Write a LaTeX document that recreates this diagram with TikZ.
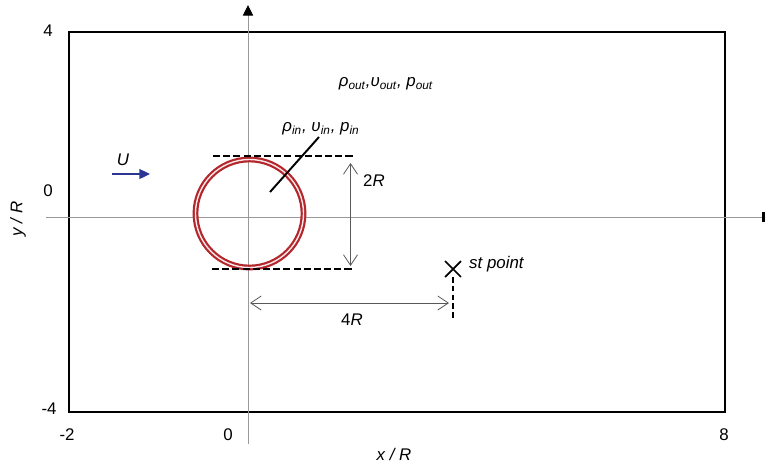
\documentclass[tikz,border=0pt]{standalone}
\usepackage{fontspec}
\setmainfont{Liberation Sans}
\usepackage{tikz}
\usetikzlibrary{arrows.meta,positioning,shapes.misc}
\definecolor{ring-red}{HTML}{B3262B}
\definecolor{flow-blue}{HTML}{2B3594}

\tikzset{
    axisline/.style={draw=black!40, line width=0.55pt},
    dimline/.style={draw=black!65, line width=0.45pt, {Straight Barb[length=6pt,width=8pt]}-{Straight Barb[length=6pt,width=8pt]}},
    guide/.style={line width=1.1pt, dash pattern=on 4pt off 1.8pt},
    lbl/.style={inner sep=0.5pt, font=\fontsize{9.6}{11}\selectfont\itshape},
    tick/.style={inner sep=0.5pt, font=\fontsize{9.6}{11}\selectfont}
}

\begin{document}
\begin{tikzpicture}[x=0.02cm, y=-0.02cm, >=stealth]
    \useasboundingbox (0,0) rectangle (766,467);

    % domain and axes
    \draw[line width=1.1pt] (69,32) rectangle (725,412);
    \coordinate (xa) at (46,217);
    \coordinate (xb) at (765,217);
    \coordinate (ya) at (248,444);
    \coordinate (yb) at (248,5);
    \draw[axisline, -{Rectangle[length=1.7pt,width=5.7pt,black]}] (xa) -- (xb);
    \draw[axisline, -{Triangle[length=6pt,width=5.8pt,black]}] (ya) -- (yb);

    \node[tick] (t4) at (48,31) {4};
    \node[tick] (t0) at (48,191) {0};
    \node[tick] (tm4) at (49,409) {-4};
    \node[tick] (sm2) at (67,435) {-2};
    \node[tick] (s0) at (228,435) {0};
    \node[tick] (s8) at (724,435) {8};
    \node[lbl] (xlbl) at (394,454) {x / R};
    \node[lbl, rotate=90] (ylbl) at (18,219) {y / R};

    % bubble
    \node[circle, inner sep=0pt, minimum size=61.5pt, draw=ring-red, line width=1.25pt,
          double=ring-red!10, double distance=0.8pt] (bubble) at (249.5,213.5) {};
    \coordinate (gt1) at (213,156);
    \coordinate (gt2) at (353,156);
    \coordinate (gb1) at (212,269);
    \coordinate (gb2) at (352,269);
    \draw[guide] (gt1) -- (gt2);
    \draw[guide] (gb1) -- (gb2);
    \coordinate (d2a) at (350.5,163);
    \coordinate (d2b) at (350.5,266);
    \draw[dimline] (d2a) -- (d2b);
    \node[lbl] (twoR) at (374,181) {\upshape 2\itshape R};

    % labels
    \node[lbl] (outlbl) at (386,84) {ρ\textsubscript{out},υ\textsubscript{out}, p\textsubscript{out}};
    \node[lbl] (inlbl) at (321,129) {ρ\textsubscript{in}, υ\textsubscript{in}, p\textsubscript{in}};
    \coordinate (inpt) at (270,192);
    \draw[line width=1.1pt] (319,137) -- (inpt);

    % free stream
    \coordinate (ua) at (112,174);
    \coordinate (ub) at (150,174);
    \draw[flow-blue, line width=0.75pt, -{Triangle[length=6pt,width=5.6pt]}] (ua) -- (ub);
    \node[lbl] (U) at (123,160) {U};

    % stagnation point
    \node[cross out, draw, line width=1pt, minimum size=8pt, inner sep=0pt] (st) at (453,269) {};
    \node[lbl, anchor=west] (stlbl) at (468,264) {st point};
    \coordinate (stfoot) at (453,318);
    \draw[line width=1.1pt, dash pattern=on 3.2pt off 1.8pt] (453,277) -- (stfoot);
    \coordinate (d4a) at (250,303);
    \coordinate (d4b) at (449,303);
    \draw[dimline] (d4a) -- (d4b);
    \node[lbl] (fourR) at (352,320) {\upshape 4\itshape R};
\end{tikzpicture}
\end{document}
